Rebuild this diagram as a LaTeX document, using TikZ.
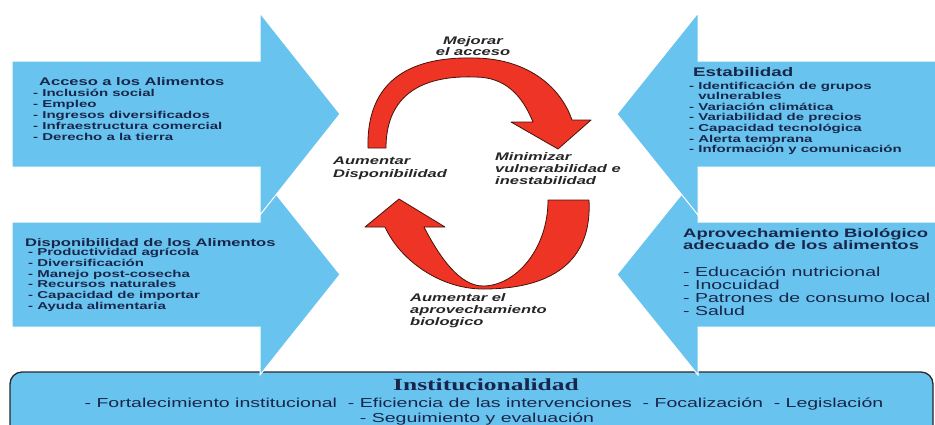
\documentclass[tikz,border=0pt]{standalone}
\usepackage{fontspec}
\setmainfont{Liberation Sans}
\newfontfamily\wsans[FakeStretch=1.5]{Liberation Sans}
\newfontfamily\wserif[FakeStretch=1.5]{Liberation Serif}
\definecolor{skyb}{RGB}{104,196,238}
\definecolor{redA}{RGB}{238,52,36}
\definecolor{redline}{RGB}{70,20,12}
\definecolor{navy}{RGB}{25,38,75}
\definecolor{lblc}{RGB}{38,38,38}
\definecolor{boxline}{RGB}{40,40,45}
\newcommand\fsz[2]{\fontsize{#1bp}{#2bp}\selectfont}
\newcommand\lns[2]{\begin{tabular}[t]{@{}#1@{}}#2\end{tabular}}
\tikzset{
  bluearrow/.style={fill=skyb, draw=white, line width=1bp, line join=miter},
  redarrow/.style={fill=redA, draw=redline, line width=0.8bp, line join=round},
  instbox/.style={fill=skyb, draw=boxline, line width=1.3bp, rounded corners=12bp},
  txt/.style={inner sep=0pt, anchor=base west, text=navy},
  lbl/.style={inner sep=0pt, anchor=base west, text=lblc},
}
\begin{document}
\begin{tikzpicture}[x=1bp,y=-1bp]
\useasboundingbox (0,0) rectangle (935,424);
\fill[white] (0,0) rectangle (935,424);

% institutional box
\path[instbox] (10,372) rectangle (933,445);

% blue arrows
\path[bluearrow] (12,222) -- (260,222) -- (260,174) -- (340,274.5) -- (260,375) -- (260,327) -- (12,327) -- cycle;
\path[bluearrow] (12,61) -- (260,61) -- (260,13) -- (340,114) -- (260,215) -- (260,167) -- (12,167) -- cycle;
\path[bluearrow] (945,222) -- (698,222) -- (698,174) -- (617,274.5) -- (698,375) -- (698,327) -- (945,327) -- cycle;
\path[bluearrow] (945,61) -- (698,61) -- (698,13) -- (617,114) -- (698,215) -- (698,167) -- (945,167) -- cycle;

% red cycle arrows
\path[redarrow] (368,148) .. controls (366,70) and (425,57) .. (473,58)
  .. controls (525,58) and (560,85) .. (572,120) -- (591,120) -- (558,149) -- (511,122) -- (533,122)
  .. controls (522,95) and (505,77) .. (475,77)
  .. controls (445,76) and (386,80) .. (386,148) -- cycle;
\path[redarrow] (548,200) -- (589,200) .. controls (592,255) and (560,289) .. (483,289)
  .. controls (440,289) and (400,260) .. (385,227) -- (365,227) -- (399,199) -- (445,227) -- (424,227)
  .. controls (440,258) and (460,286) .. (483,286)
  .. controls (515,286) and (548,250) .. (548,200) -- cycle;

% left top
\node[txt, font=\wsans\bfseries\fsz{11}{11}] (acch) at (39,85) {Acceso a los Alimentos};
\node[txt, font=\wsans\bfseries\fsz{10}{11}] (accl) at (33,96)
  {\lns{l}{- Inclusión social\\- Empleo\\- Ingresos diversificados\\- Infraestructura comercial\\- Derecho a la tierra}};

% left bottom
\node[txt, font=\wsans\bfseries\fsz{11}{11}] (disph) at (25,246) {Disponibilidad de los Alimentos};
\node[txt, font=\wsans\bfseries\fsz{10}{10.8}] (displ) at (28,255.5)
  {\lns{l}{- Productividad agrícola\\- Diversificación\\- Manejo post-cosecha\\- Recursos naturales\\- Capacidad de importar\\- Ayuda alimentaria}};

% right top
\node[txt, font=\wsans\bfseries\fsz{12.5}{12}] (estah) at (693,76) {Estabilidad};
\node[txt, font=\wsans\bfseries\fsz{10}{10.6}] (estal) at (689,89)
  {\lns{l}{- Identificación de grupos\\\phantom{- }vulnerables\\- Variación climática\\- Variabilidad de precios\\- Capacidad tecnológica\\- Alerta temprana\\- Información y comunicación}};

% right bottom
\node[txt, font=\wsans\bfseries\fsz{12.3}{11}] (aproh) at (683,237.5)
  {\lns{l}{Aprovechamiento Biológico\\adecuado de los alimentos}};
\node[txt, font=\wsans\fsz{13}{12.7}] (aprol) at (683,276)
  {\lns{l}{- Educación nutricional\\- Inocuidad\\- Patrones de consumo local\\- Salud}};

% institutional text
\node[inner sep=0pt, anchor=base, text=navy, font=\wserif\bfseries\fsz{17}{17}] (insth) at (486,390) {Institucionalidad};
\node[inner sep=0pt, anchor=base, text=navy, font=\wsans\fsz{13}{13}] (instl) at (484,407.5)
  {- Fortalecimiento institucional\ \ - Eficiencia de las intervenciones\ \ - Focalización\ \ - Legislación};
\node[inner sep=0pt, anchor=base, text=navy, font=\wsans\fsz{13}{13}] (insts) at (477,422.4) {- Seguimiento y evaluación};

% cycle labels
\node[lbl, anchor=base, font=\wsans\bfseries\itshape\fsz{11}{11}] (mej) at (473,44) {\lns{c}{Mejorar\\el acceso}};
\node[lbl, font=\wsans\bfseries\itshape\fsz{11}{13}] (aumd) at (333,164.5) {\lns{l}{Aumentar\\Disponibilidad}};
\node[lbl, font=\wsans\bfseries\itshape\fsz{11}{12}] (minv) at (495,160) {\lns{l}{Minimizar\\vulnerabilidad e\\inestabilidad}};
\node[lbl, font=\wsans\bfseries\itshape\fsz{11}{12}] (aumb) at (410,301) {\lns{l}{Aumentar el\\aprovechamiento\\biologico}};
\end{tikzpicture}
\end{document}
